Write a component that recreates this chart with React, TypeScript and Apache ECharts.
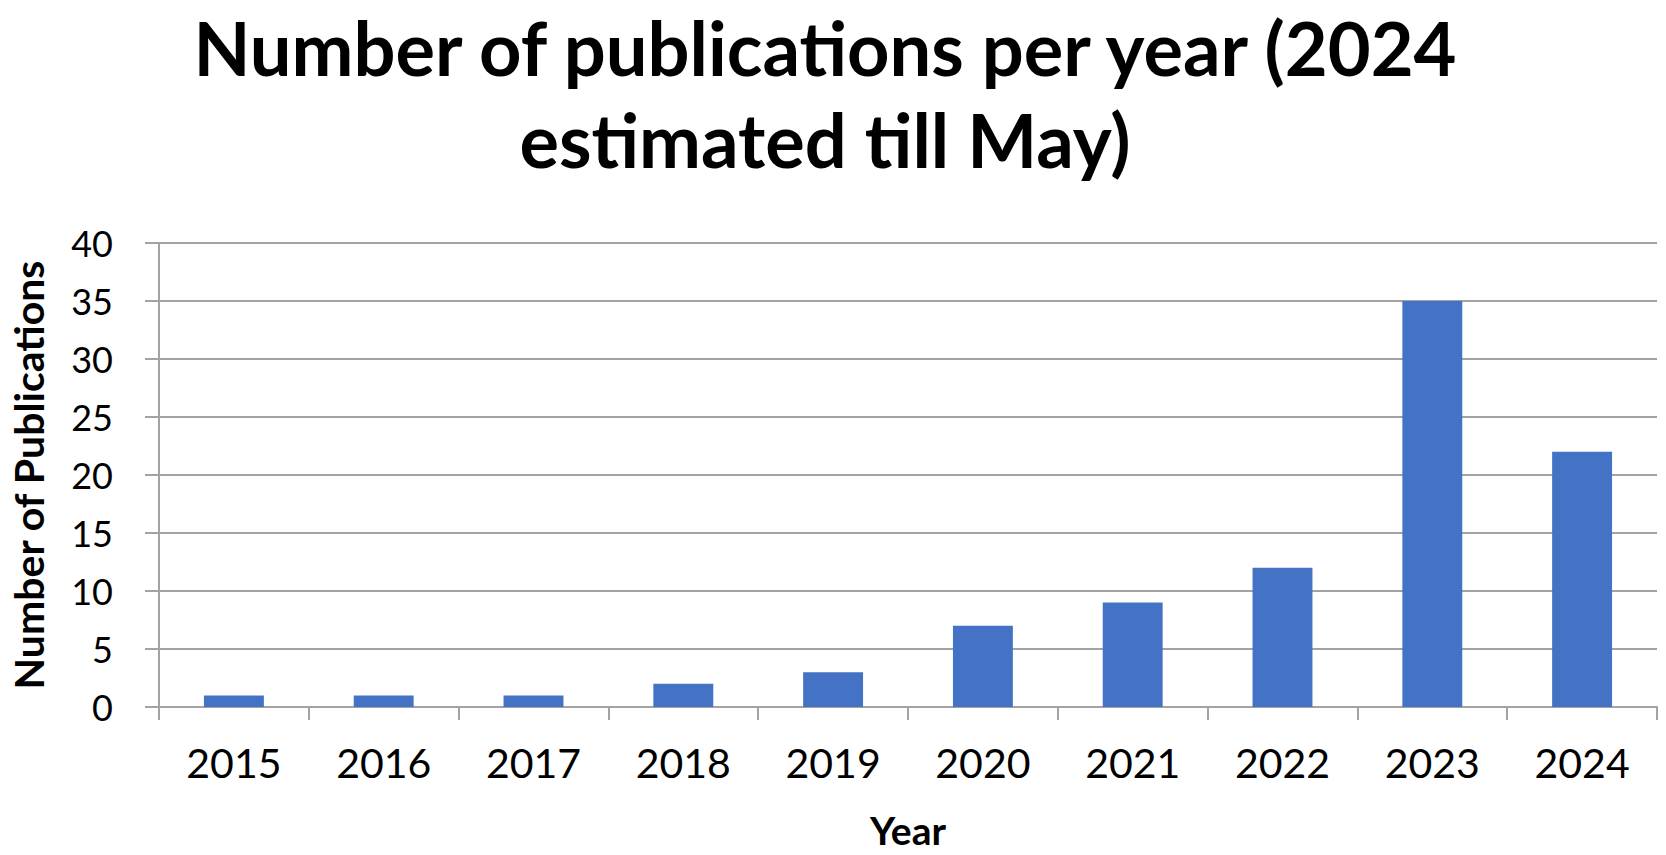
import React, { useEffect, useRef } from "react";
import * as echarts from "echarts";

const years = ["2015", "2016", "2017", "2018", "2019", "2020", "2021", "2022", "2023", "2024"];
const publications = [1, 1, 1, 2, 3, 7, 9, 12, 35, 22];
const titleLines = ["Number of publications per year (2024", "estimated till May)"];
const yAxisTitle = "Number of Publications";
const xAxisTitle = "Year";

const GRAY = "#a3a3a3";
const FONT = "Lato, 'Open Sans', sans-serif";

export default function App() {
  const ref = useRef<HTMLDivElement>(null);
  useEffect(() => {
    if (!ref.current) return;
    const chart = echarts.init(ref.current, null, { renderer: "svg" });
    const titleStyle = {
      font: `bold 74px ${FONT}`,
      fill: "#000",
      textAlign: "center",
      textVerticalAlign: "middle",
      align: "center",
      verticalAlign: "middle",
    };
    chart.setOption({
      animation: false,
      backgroundColor: "#ffffff",
      textStyle: { fontFamily: FONT },
      graphic: [
        { type: "text", x: 825, y: 47, style: { ...titleStyle, text: titleLines[0] } },
        { type: "text", x: 825, y: 139, style: { ...titleStyle, text: titleLines[1] } },
      ],
      grid: { left: 154, right: 9, top: 243, bottom: 148, containLabel: false },
      xAxis: {
        type: "category",
        data: years,
        boundaryGap: true,
        name: xAxisTitle,
        nameLocation: "middle",
        nameGap: 103,
        nameTextStyle: { fontFamily: FONT, fontWeight: "bold", fontSize: 39, color: "#000" },
        axisLine: { show: true, lineStyle: { color: GRAY, width: 2 } },
        axisTick: { show: true, length: 13, alignWithLabel: false, lineStyle: { color: GRAY, width: 2 } },
        axisLabel: { fontFamily: FONT, fontSize: 41, color: "#000", margin: 35 },
      },
      yAxis: {
        type: "value",
        min: 0,
        max: 40,
        interval: 5,
        name: yAxisTitle,
        nameLocation: "middle",
        nameGap: 110,
        nameTextStyle: { fontFamily: FONT, fontWeight: "bold", fontSize: 41, color: "#000" },
        axisLine: { show: true, lineStyle: { color: GRAY, width: 2 } },
        axisTick: { show: true, length: 14, lineStyle: { color: GRAY, width: 2 } },
        splitLine: { show: true, lineStyle: { color: GRAY, width: 2 } },
        axisLabel: { fontFamily: FONT, fontSize: 36, color: "#000", margin: 46 },
      },
      series: [
        {
          type: "bar",
          data: publications,
          barWidth: "40%",
          itemStyle: { color: "#4472C4" },
        },
      ],
    });
    return () => chart.dispose();
  }, []);
  return <div ref={ref} style={{ width: 1666, height: 855, position: "absolute", left: 0, top: 0 }} />;
}
